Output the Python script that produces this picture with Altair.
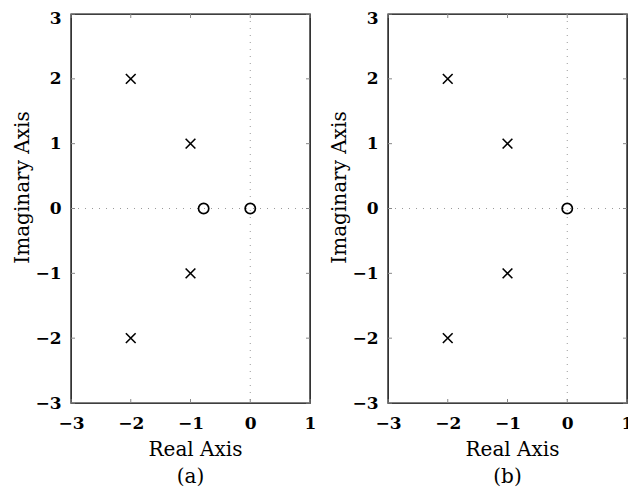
import altair as alt
import pandas as pd

# ---- data ----
x_ticks = [-3, -2, -1, 0, 1]
y_ticks = [-3, -2, -1, 0, 1, 2, 3]
origin_lines = [0]

poles_a_re = [-2, -1, -1, -2]
poles_a_im = [2, 1, -1, -2]
zeros_a_re = [-0.78, 0.0]
zeros_a_im = [0, 0]

poles_b_re = [-2, -1, -1, -2]
poles_b_im = [2, 1, -1, -2]
zeros_b_re = [0.0]
zeros_b_im = [0]

panel_labels = ["(a)", "(b)"]

# ---- style ----
W, H = 239, 389
FONT = "DejaVu Serif"
TICK = 4


def panel(p_re, p_im, z_re, z_im, label):
    xs = alt.Scale(domain=[-3, 1], nice=False, zero=False)
    ys = alt.Scale(domain=[-3, 3], nice=False, zero=False)
    xaxis = alt.Axis(
        values=x_ticks, title="Real Axis", ticks=False, tickSize=0, domain=False,
        grid=False, labelFlush=False, labelOverlap=False,
        labelFont=FONT, labelFontWeight="bold", labelFontSize=17, labelPadding=12,
        labelColor="black", titleFont=FONT, titleFontWeight="normal",
        titleFontSize=20, titlePadding=8, titleColor="black", titleX=124,
    )
    yaxis = alt.Axis(
        values=y_ticks, title="Imaginary Axis", ticks=False, tickSize=0, domain=False,
        grid=False, labelFlush=False, labelOverlap=False,
        labelFont=FONT, labelFontWeight="bold", labelFontSize=17, labelPadding=10,
        labelColor="black", titleFont=FONT, titleFontWeight="normal",
        titleFontSize=20, titlePadding=2, titleColor="black", titleY=173,
        labelOffset={"condition": {"test": "datum.value == 3", "value": 4}, "value": 0},
    )
    X = alt.X("re:Q", scale=xs, axis=xaxis)
    Y = alt.Y("im:Q", scale=ys, axis=yaxis)

    vline = alt.Chart(pd.DataFrame({"re": origin_lines})).mark_rule(
        color="#9a9a9a", strokeDash=[1, 6], strokeWidth=1
    ).encode(x=X)
    hline = alt.Chart(pd.DataFrame({"im": origin_lines})).mark_rule(
        color="#9a9a9a", strokeDash=[1, 6], strokeWidth=1
    ).encode(y=Y)

    xt = pd.DataFrame({"re": x_ticks})
    yt = pd.DataFrame({"im": y_ticks})
    tick_style = dict(color="#888888", strokeWidth=1)
    t_bottom = alt.Chart(xt).mark_rule(**tick_style).encode(
        x=X, y=alt.value(H), y2=alt.value(H - TICK))
    t_top = alt.Chart(xt).mark_rule(**tick_style).encode(
        x=X, y=alt.value(0), y2=alt.value(TICK))
    t_left = alt.Chart(yt).mark_rule(**tick_style).encode(
        y=Y, x=alt.value(0), x2=alt.value(TICK))
    t_right = alt.Chart(yt).mark_rule(**tick_style).encode(
        y=Y, x=alt.value(W), x2=alt.value(W - TICK))

    poles = alt.Chart(pd.DataFrame({"re": p_re, "im": p_im})).mark_point(
        shape="M-1,-1L1,1M-1,1L1,-1", filled=False, size=95, strokeWidth=1.6,
        color="black", opacity=1
    ).encode(x=X, y=Y)
    zeros = alt.Chart(pd.DataFrame({"re": z_re, "im": z_im})).mark_point(
        shape="circle", filled=False, size=105, strokeWidth=1.7,
        color="black", opacity=1
    ).encode(x=X, y=Y)

    return alt.layer(vline, hline, t_bottom, t_top, t_left, t_right, poles, zeros).properties(
        width=W, height=H,
        title=alt.TitleParams(label, orient="bottom", font=FONT, fontSize=20,
                              fontWeight="normal", color="black", offset=8),
    )


a = panel(poles_a_re, poles_a_im, zeros_a_re, zeros_a_im, panel_labels[0])
b = panel(poles_b_re, poles_b_im, zeros_b_re, zeros_b_im, panel_labels[1])

chart = alt.hconcat(a, b, spacing=78, bounds="flush").properties(
    autosize=alt.AutoSizeParams(type="none"),
    padding={"left": 63, "top": 6, "right": 557, "bottom": 464},
    background="white",
).configure_view(stroke="black", strokeWidth=1.4)

chart.save("out.html", embed_options={"renderer": "svg", "actions": False})
